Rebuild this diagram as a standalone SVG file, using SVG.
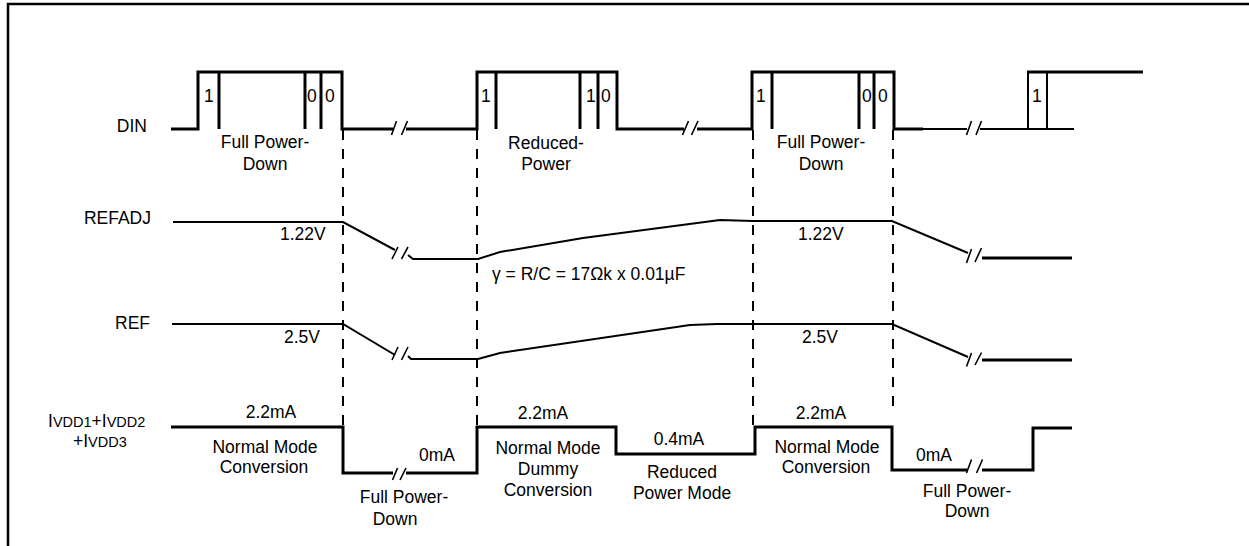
<svg xmlns="http://www.w3.org/2000/svg" width="1249" height="546" viewBox="0 0 1249 546">
<style>
text{font-family:"Liberation Sans",Arial,sans-serif;font-size:17.5px;fill:#000}
.m{text-anchor:middle}
.e{text-anchor:end}
.w3{fill:none;stroke:#000;stroke-width:3}
.w2{fill:none;stroke:#000;stroke-width:2}
.brk{fill:none;stroke:#000;stroke-width:1.6}
.dash{fill:none;stroke:#000;stroke-width:2;stroke-dasharray:10 9}
.sub{font-size:14.5px}
</style>
<path d="M8,546 V4 H1249" fill="none" stroke="#000" stroke-width="2.5"/>

<g id="connectors">
<path class="dash" d="M343,130 V425 M477,130 V425 M753,130 V425 M893,130 V414"/>
</g>

<g id="din">
<text class="e" x="147" y="132">DIN</text>
<path class="w3" d="M171,129 H198 V72 H342 V129 H393 M406,129 H477 V72 H617 V129 H684 M697,129 H752 V72 H894 V129 H923"/>
<path class="w2" d="M923,129 H967 M980,129 H1074 M1028,129 V72 M1047,72 V129"/>
<path class="w3" d="M1027,72 H1143"/>
<path class="w3" d="M219,72 V129 M305,72 V129 M321,72 V129 M496,72 V129 M580,72 V129 M598,72 V129 M772,72 V129 M859,72 V129 M874,72 V129"/>
<path class="brk" d="M391.5,135 L396.5,121 M401.5,135 L407.5,121 M682.5,135 L688.5,121 M691.5,135 L698,121 M966.5,135 L971.5,121 M976,135 L981.5,121"/>
<text x="204" y="102">1</text>
<text x="307" y="102">0</text>
<text x="325" y="102">0</text>
<text x="481" y="102">1</text>
<text x="586" y="102">1</text>
<text x="601" y="102">0</text>
<text x="756" y="102">1</text>
<text x="862" y="102">0</text>
<text x="878" y="102">0</text>
<text x="1032" y="102">1</text>
<text class="m" x="265" y="148">Full Power-</text>
<text class="m" x="265" y="170">Down</text>
<text class="m" x="546" y="149">Reduced-</text>
<text class="m" x="546" y="170">Power</text>
<text class="m" x="821" y="148">Full Power-</text>
<text class="m" x="821" y="170">Down</text>
</g>

<g id="refadj">
<text class="e" x="151" y="224">REFADJ</text>
<path class="w2" d="M173,222 H343 L395,250 M408,255 L413,259 H478 L500,252 L583,238 L720,220 L753,221 H892 L968,253"/>
<path class="w3" d="M982,258 H1072"/>
<path class="brk" d="M392,259 L398,247 M401.5,259 L408,247 M966.5,263 L971.5,249 M975,262 L981.5,248"/>
<text x="280" y="240">1.22V</text>
<text x="798" y="240">1.22V</text>
<text x="492" y="280">γ = R/C = 17Ωk x 0.01µF</text>
</g>

<g id="ref">
<text class="e" x="150" y="329">REF</text>
<path class="w2" d="M172,324 H343 L395,355 M408,356 L411,359 H478 L500,353 L690,325 L717,324 H892 L968,357"/>
<path class="w3" d="M982,360 H1072"/>
<path class="brk" d="M392,360 L398,347 M401.5,360 L408,347 M966.5,366.5 L971.5,353 M975,365 L981.5,352.5"/>
<text x="284" y="343">2.5V</text>
<text x="802" y="343">2.5V</text>
</g>

<g id="ivdd">
<text x="48" y="427">I<tspan class="sub">VDD1</tspan>+I<tspan class="sub">VDD2</tspan></text>
<text x="73" y="447">+I<tspan class="sub">VDD3</tspan></text>
<path class="w3" d="M171,427 H343 V473 H393 M406,473 H477 V427 H616 V454 H755 V427 H892 V470 H967 M982,470 H1033 V428 H1072"/>
<path class="brk" d="M392.5,480 L397.5,468 M400,480 L406,468 M966.5,473 L971.5,459.5 M976.5,473 L982.5,459.5"/>
<text class="m" x="271" y="418">2.2mA</text>
<text class="m" x="265" y="453">Normal Mode</text>
<text class="m" x="264" y="473">Conversion</text>
<text class="m" x="437" y="461">0mA</text>
<text class="m" x="404" y="503">Full Power-</text>
<text class="m" x="395" y="525">Down</text>
<text class="m" x="543" y="419">2.2mA</text>
<text class="m" x="548" y="454">Normal Mode</text>
<text class="m" x="548" y="475">Dummy</text>
<text class="m" x="548" y="496">Conversion</text>
<text class="m" x="679" y="445">0.4mA</text>
<text class="m" x="682" y="478">Reduced</text>
<text class="m" x="682" y="499">Power Mode</text>
<text class="m" x="821" y="419">2.2mA</text>
<text class="m" x="827" y="453">Normal Mode</text>
<text class="m" x="826" y="473">Conversion</text>
<text class="m" x="934" y="461">0mA</text>
<text class="m" x="967" y="497">Full Power-</text>
<text class="m" x="967" y="517">Down</text>
</g>
</svg>
